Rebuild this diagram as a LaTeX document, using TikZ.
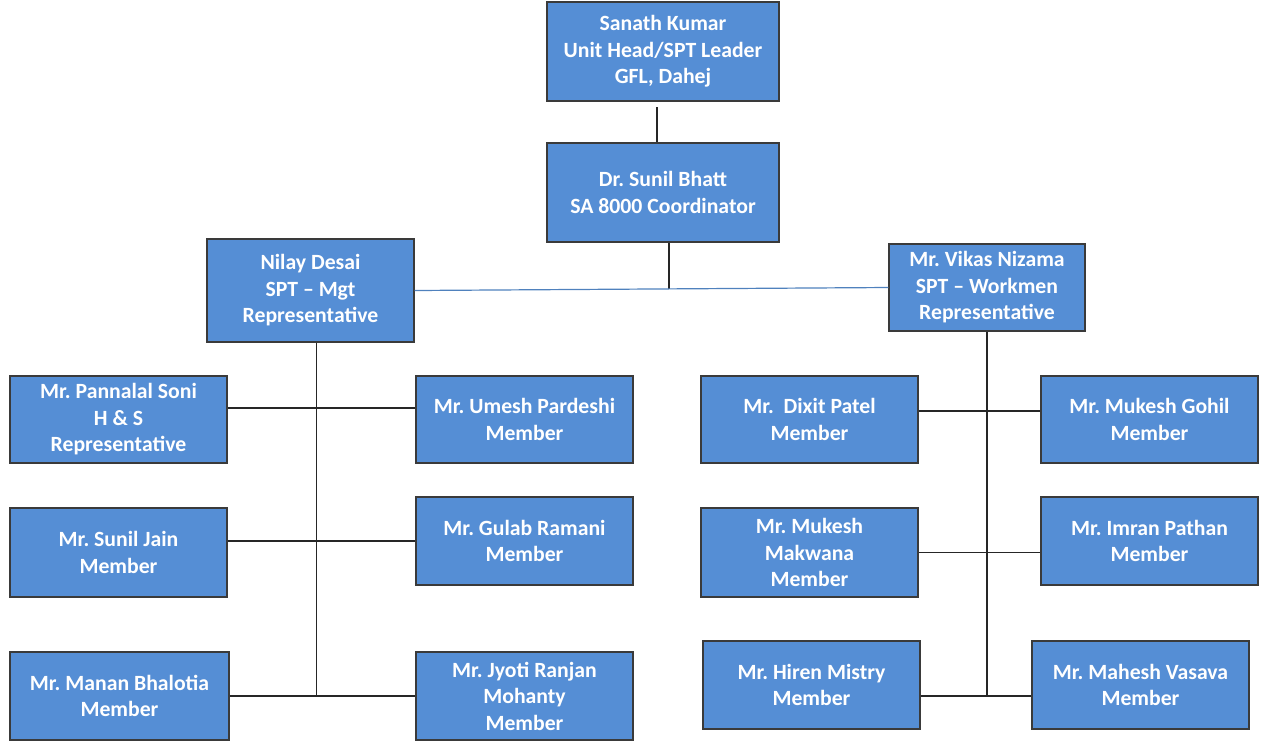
\documentclass[tikz,border=0pt]{standalone}
\usepackage{fontspec}
\setmainfont{Carlito}
\frenchspacing
\definecolor{boxfill}{HTML}{558ED5}
\definecolor{boxline}{HTML}{3A3A3A}
\definecolor{linkblue}{HTML}{4F81BD}
\begin{document}
\begin{tikzpicture}[x=0.75pt,y=-0.75pt,
  box/.style 2 args={draw=boxline, line width=0.9pt, fill=boxfill, text=white,
    font=\frenchspacing\fontsize{16.3}{19.9}\selectfont\bfseries, align=center, inner sep=0pt,
    minimum width=#1*0.75pt, minimum height=#2*0.75pt},
  conn/.style={draw=black!85, line width=0.8pt},
  bconn/.style={draw=linkblue, line width=0.9pt}]
\useasboundingbox (0,0) rectangle (1267,744);
% nodes
\node[box={232}{99}] (sk) at (663,51.5) {Sanath Kumar\\Unit Head/SPT Leader\\GFL, Dahej};
\node[box={232}{99}] (sb) at (663,192.5) {Dr.\ Sunil Bhatt\\SA 8000 Coordinator};
\node[box={207}{103}] (nd) at (310.5,290.5) {Nilay Desai\\SPT -- Mgt\\Representative};
\node[box={196}{87}] (vn) at (987,287.5) {Mr.\ Vikas Nizama\\SPT -- Workmen\\Representative};
\node[box={217}{87}] (ps) at (118.5,419.5) {Mr.\ Pannalal Soni\\H \& S\\Representative};
\node[box={217}{87}] (up) at (524.5,419.5) {Mr.\ Umesh Pardeshi\\Member};
\node[box={217}{89}] (sj) at (118.5,552.5) {Mr.\ Sunil Jain\\Member};
\node[box={217}{88}] (gr) at (524.5,541) {Mr.\ Gulab Ramani\\Member};
\node[box={219}{88}] (mb) at (119.5,696) {Mr.\ Manan Bhalotia\\Member};
\node[box={217}{88}] (jr) at (524.5,696) {Mr.\ Jyoti Ranjan\\Mohanty\\Member};
\node[box={217}{87}] (dp) at (809.5,419.5) {Mr.\ \ Dixit Patel\\Member};
\node[box={217}{87}] (mg) at (1149.5,419.5) {Mr.\ Mukesh Gohil\\Member};
\node[box={217}{89}] (mm) at (809.5,552.5) {Mr.\ Mukesh\\Makwana\\Member};
\node[box={217}{88}] (ip) at (1149.5,541) {Mr.\ Imran Pathan\\Member};
\node[box={217}{88}] (hm) at (811.5,685) {Mr.\ Hiren Mistry\\Member};
\node[box={217}{88}] (mv) at (1140.5,685) {Mr.\ Mahesh Vasava\\Member};
% helper coordinates
\coordinate (t1) at (657,107);
\coordinate (jn) at (669,289);
\coordinate (lv) at (316.5,697);
\coordinate (rv) at (987,696);
\coordinate (ya) at (0,408);
\coordinate (yb) at (0,411);
% connectors
\draw[conn] (t1) -- (t1 |- sb.north);
\draw[conn] (sb.south -| jn) -- (jn);
\draw[bconn] (nd.east) -- (vn.west);
\draw[conn] (nd.south -| lv) -- (lv);
\draw[conn] (ps.east |- ya) -- (up.west |- ya);
\draw[conn] (sj.east |- gr.west) -- (gr.west);
\draw[conn] (mb.east) -- (jr.west);
\draw[conn] (vn.south) -- (rv);
\draw[conn] (dp.east |- yb) -- (mg.west |- yb);
\draw[conn] (mm.east) -- (ip.west |- mm.east);
\draw[conn] (hm.east |- rv) -- (mv.west |- rv);
\end{tikzpicture}
\end{document}
